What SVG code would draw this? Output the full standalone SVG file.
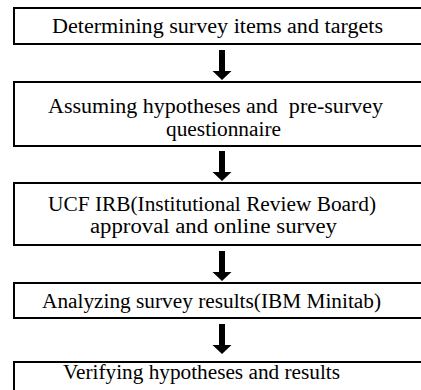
<svg xmlns="http://www.w3.org/2000/svg" xmlns:xlink="http://www.w3.org/1999/xlink" width="421" height="390" viewBox="0 0 421 390">
<style>
.box{fill:#fff;stroke:#000;stroke-width:2}
.t{font-family:"Liberation Serif","Times New Roman",serif;font-size:20px;fill:#000;text-anchor:middle;white-space:pre}
.arr{fill:#000}
</style>
<defs>
<polygon id="arrow" class="arr" points="-3,0 3,0 3,21 9.5,21 0,30 -9.5,21 -3,21"/>
</defs>
<rect width="421" height="390" fill="#fff"/>
<g id="connectors">
<use xlink:href="#arrow" x="222" y="50"/>
<use xlink:href="#arrow" x="222" y="151"/>
<use xlink:href="#arrow" x="222" y="251"/>
<use xlink:href="#arrow" x="222" y="324"/>
</g>
<g id="n1">
<rect class="box" x="14" y="8" width="412" height="36"/>
<text class="t" x="217.5" y="33" textLength="331" lengthAdjust="spacingAndGlyphs">Determining survey items and targets</text>
</g>
<g id="n2">
<rect class="box" x="14" y="82" width="412" height="64"/>
<text class="t" x="215.5" y="113" textLength="335" lengthAdjust="spacingAndGlyphs" xml:space="preserve">Assuming hypotheses and  pre-survey</text>
<text class="t" x="223.5" y="136" textLength="115" lengthAdjust="spacingAndGlyphs">questionnaire</text>
</g>
<g id="n3">
<rect class="box" x="14" y="183" width="412" height="62"/>
<text class="t" x="212" y="211" textLength="328" lengthAdjust="spacingAndGlyphs">UCF IRB(Institutional Review Board)</text>
<text class="t" x="213.5" y="233" textLength="247" lengthAdjust="spacingAndGlyphs">approval and online survey</text>
</g>
<g id="n4">
<rect class="box" x="14" y="283" width="412" height="35"/>
<text class="t" x="211.5" y="308" textLength="339" lengthAdjust="spacingAndGlyphs">Analyzing survey results(IBM Minitab)</text>
</g>
<g id="n5">
<rect class="box" x="14" y="362" width="412" height="40"/>
<text class="t" x="201.5" y="379" textLength="277" lengthAdjust="spacingAndGlyphs">Verifying hypotheses and results</text>
</g>
</svg>
